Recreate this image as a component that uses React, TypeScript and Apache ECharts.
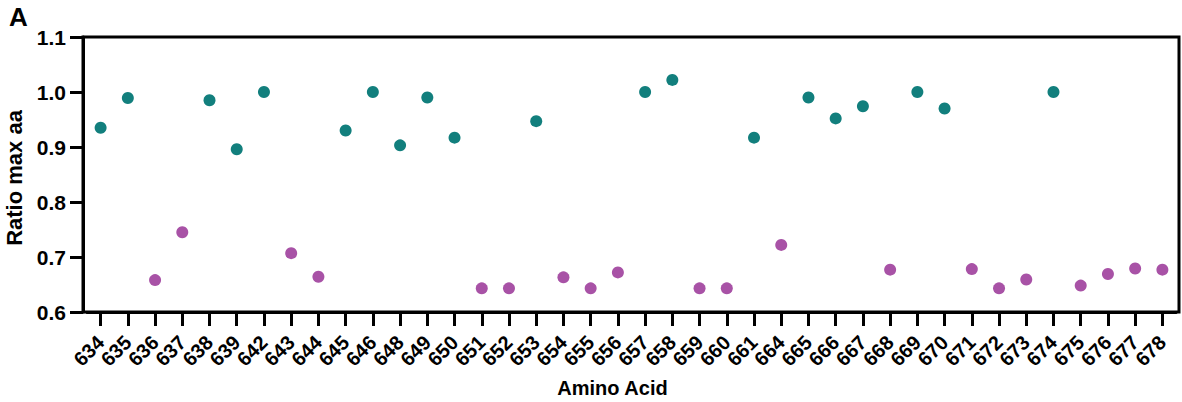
import React, { useEffect, useRef } from "react";
import * as echarts from "echarts";

const categories = [
  "634", "635", "636", "637", "638", "639", "642", "643", "644", "645",
  "646", "648", "649", "650", "651", "652", "653", "654", "655", "656",
  "657", "658", "659", "660", "661", "664", "665", "666", "667", "668",
  "669", "670", "671", "672", "673", "674", "675", "676", "677", "678",
];

const tealPoints: [string, number][] = [
  ["634", 0.935], ["635", 0.989], ["638", 0.985], ["639", 0.896],
  ["642", 1.0], ["645", 0.93], ["646", 1.0], ["648", 0.903],
  ["649", 0.99], ["650", 0.917], ["653", 0.947], ["657", 1.0],
  ["658", 1.022], ["661", 0.917], ["665", 0.99], ["666", 0.952],
  ["667", 0.974], ["669", 1.0], ["670", 0.97], ["674", 1.0],
];

const purplePoints: [string, number][] = [
  ["636", 0.658], ["637", 0.745], ["643", 0.707], ["644", 0.664],
  ["651", 0.643], ["652", 0.643], ["654", 0.663], ["655", 0.643],
  ["656", 0.672], ["659", 0.643], ["660", 0.643], ["664", 0.722],
  ["668", 0.677], ["671", 0.678], ["672", 0.643], ["673", 0.659],
  ["675", 0.648], ["676", 0.669], ["677", 0.679], ["678", 0.677],
];

const yTicks = { min: 0.6, max: 1.1, interval: 0.1 };

const FONT = "'Liberation Sans', Arial, Helvetica, sans-serif";

export default function App() {
  const ref = useRef<HTMLDivElement>(null);

  useEffect(() => {
    if (!ref.current) return;
    const chart = echarts.init(ref.current, undefined, { renderer: "svg" });
    chart.setOption({
      animation: false,
      backgroundColor: "#ffffff",
      textStyle: { fontFamily: FONT },
      title: {
        text: "A",
        left: 9,
        top: 4,
        padding: 0,
        textStyle: { fontFamily: FONT, fontWeight: "bold", fontSize: 26, color: "#000" },
      },
      grid: {
        left: 87,
        right: 6,
        top: 37,
        bottom: 90,
        containLabel: false,
        outerBoundsMode: "none",
      },
      graphic: [
        {
          type: "rect",
          shape: { x: 83, y: 37, width: 1096, height: 275 },
          style: { fill: "none", stroke: "#000", lineWidth: 3 },
          z: 1,
        },
      ],
      xAxis: {
        type: "category",
        data: categories,
        boundaryGap: true,
        name: "Amino Acid",
        nameLocation: "middle",
        nameGap: 66,
        nameTextStyle: {
          fontFamily: FONT,
          fontWeight: "bold",
          fontSize: 20,
          color: "#000",
          padding: [0, 38, 0, 0],
        },
        axisLine: { show: true, lineStyle: { color: "#000", width: 3 } },
        axisTick: { show: true, alignWithLabel: true, length: 14, lineStyle: { color: "#000", width: 3 } },
        axisLabel: {
          interval: 0,
          rotate: 45,
          margin: 27,
          fontFamily: FONT,
          fontWeight: "bold",
          fontSize: 20,
          color: "#000",
        },
        splitLine: { show: false },
      },
      yAxis: {
        type: "value",
        min: yTicks.min,
        max: yTicks.max,
        interval: yTicks.interval,
        offset: 4,
        name: "Ratio max aa",
        nameLocation: "middle",
        nameGap: 54,
        nameTextStyle: {
          fontFamily: FONT,
          fontWeight: "bold",
          fontSize: 22,
          color: "#000",
          padding: [0, 7, 0, 0],
        },
        axisLine: { show: true, lineStyle: { color: "#000", width: 3 } },
        axisTick: { show: true, length: 13, lineStyle: { color: "#000", width: 3 } },
        axisLabel: {
          margin: 17,
          fontFamily: FONT,
          fontWeight: "bold",
          fontSize: 21,
          color: "#000",
          formatter: (v: number) => v.toFixed(1),
        },
        splitLine: { show: false },
      },
      series: [
        {
          name: "high",
          type: "scatter",
          data: tealPoints,
          symbol: "circle",
          symbolSize: 12,
          itemStyle: { color: "#127f7d", opacity: 1 },
          z: 3,
        },
        {
          name: "low",
          type: "scatter",
          data: purplePoints,
          symbol: "circle",
          symbolSize: 12,
          itemStyle: { color: "#a852a6", opacity: 1 },
          z: 3,
        },
      ],
    });
    return () => chart.dispose();
  }, []);

  return <div ref={ref} style={{ width: 1182, height: 402, position: "absolute", left: 0, top: 0 }} />;
}
